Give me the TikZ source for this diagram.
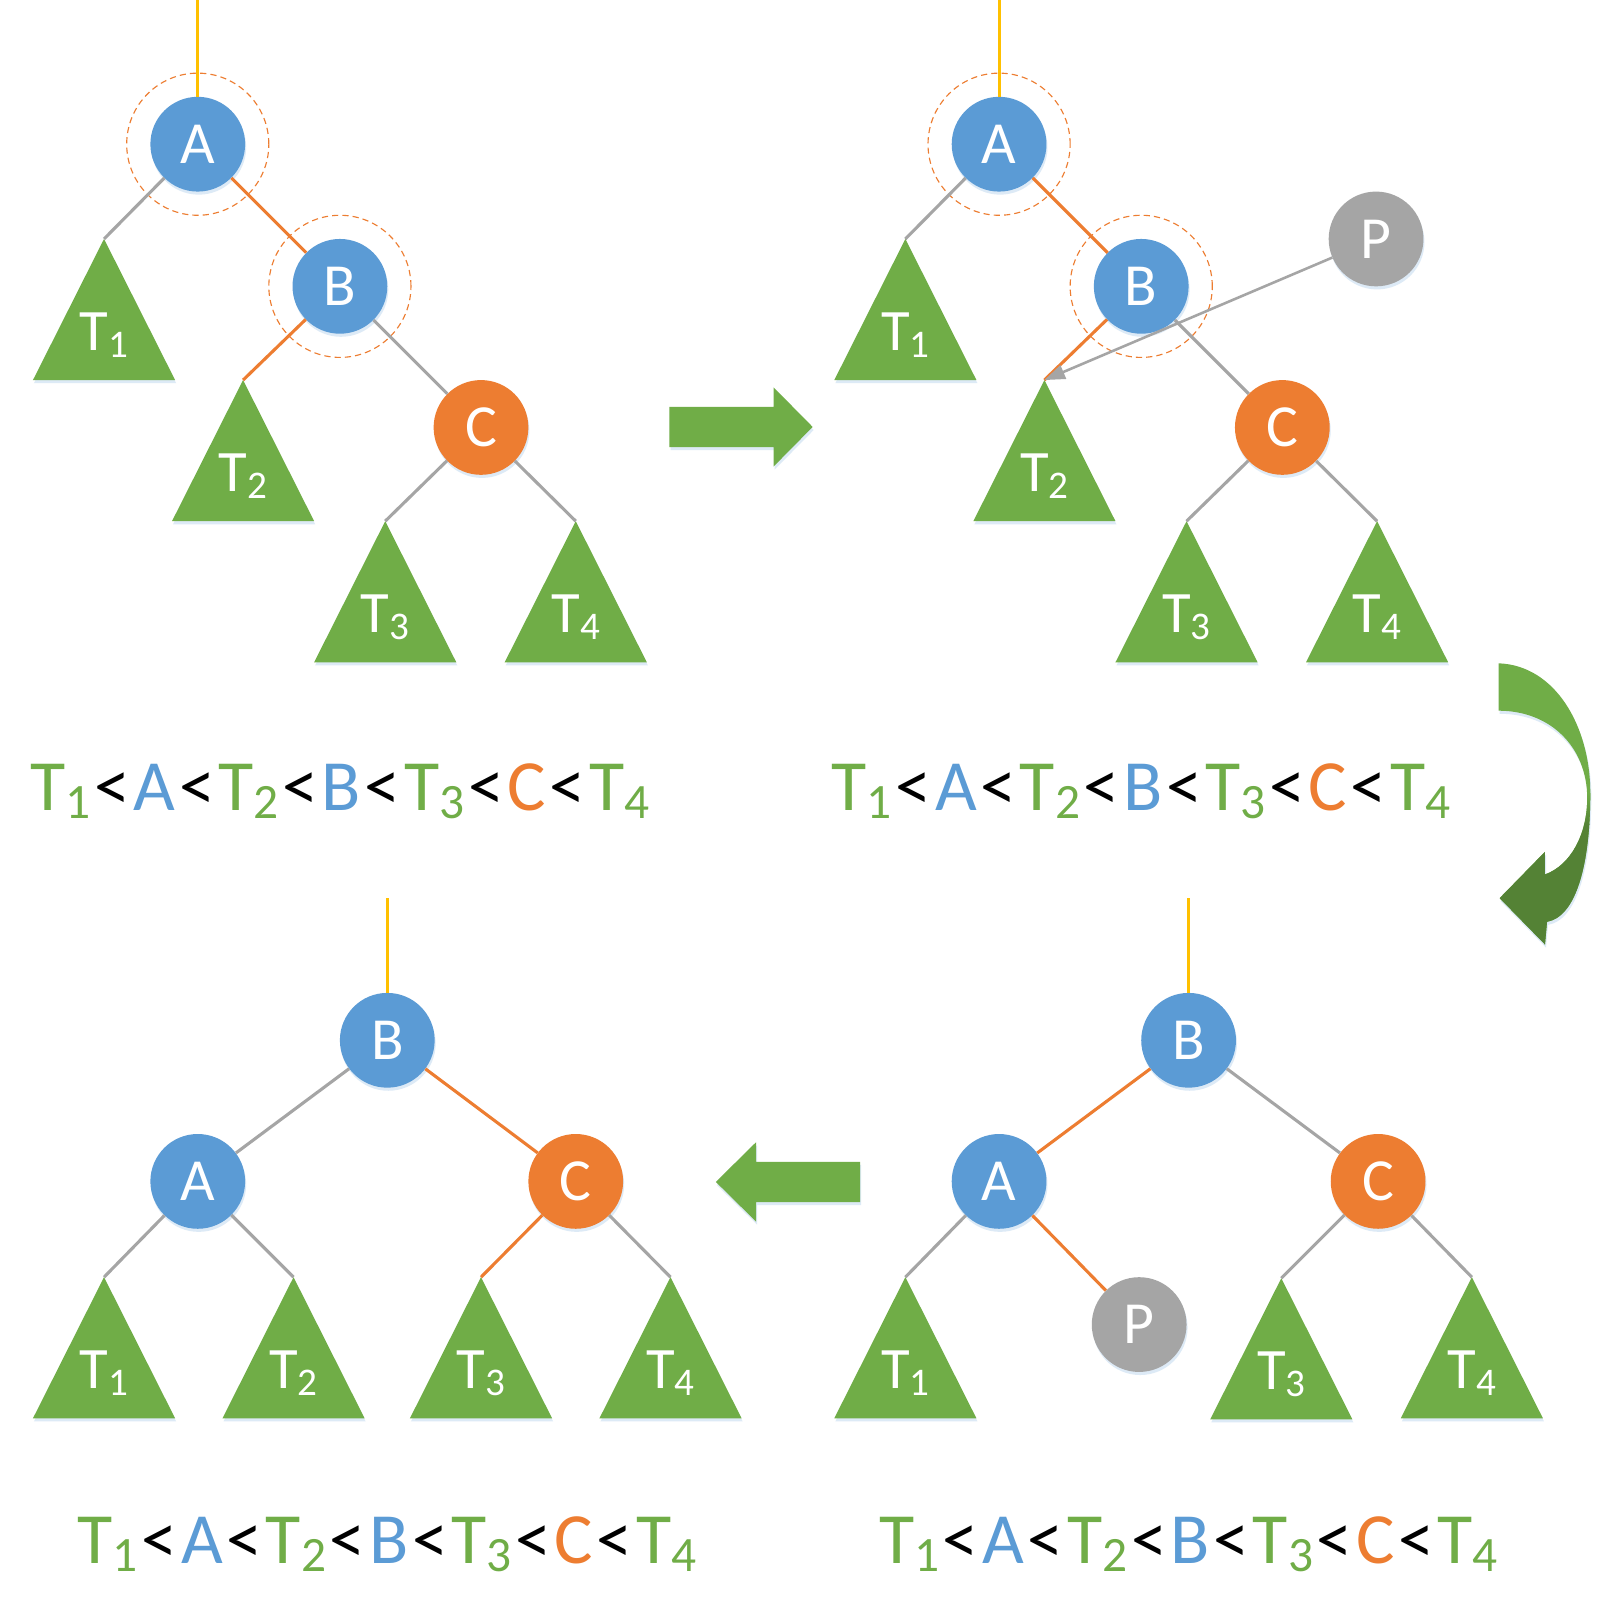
\documentclass[tikz,border=0pt]{standalone}
\usepackage{fontspec}
\setmainfont{Carlito}
\usetikzlibrary{arrows.meta,shadows,calc}
\definecolor{cblue}{HTML}{5B9BD5}
\definecolor{corange}{HTML}{ED7D31}
\definecolor{cgreen}{HTML}{70AD47}
\definecolor{cdkgreen}{HTML}{548235}
\definecolor{cgray}{HTML}{A5A5A5}
\definecolor{cyellow}{HTML}{FFC000}
\definecolor{cshadow}{HTML}{BDD7EE}
\newcommand\tsub[1]{\raisebox{-7pt}{\fontsize{38}{38}\selectfont#1}}
\newcommand\osub[1]{\raisebox{-8pt}{\fontsize{48}{48}\selectfont#1}}
\newcommand\olt{\hspace{3.5pt}<\hspace{3.5pt}}
\newcommand\orderline{\textcolor{cgreen}{T\osub{1}}\olt\textcolor{cblue}{A}\olt\textcolor{cgreen}{T\osub{2}}\olt\textcolor{cblue}{B}\olt\textcolor{cgreen}{T\osub{3}}\olt\textcolor{corange}{C}\olt\textcolor{cgreen}{T\osub{4}}}
\newcommand\subtree[4]{%
  \coordinate (#1) at (#2,#3);
  \path[fill=cgreen,shad] (#1) -- ++(-69,137) -- ++(138,0) -- cycle;
  \node[tlabel] (#1l) at ($(#1)+(0,108)$) {T\tsub{#4}};
}
\tikzset{
  shad/.style={drop shadow={shadow xshift=1pt,shadow yshift=-3pt,opacity=0.5,fill=cshadow}},
  vertex/.style={circle,minimum size=92pt,inner sep=0pt,text=white,font=\fontsize{58}{58}\selectfont,shad},
  bnode/.style={vertex,fill=cblue},
  onode/.style={vertex,fill=corange},
  pnode/.style={vertex,fill=cgray},
  halo/.style={circle,draw=corange,dash pattern=on 6pt off 4pt,line width=1.1pt,minimum size=138pt,inner sep=0pt},
  gedge/.style={draw=cgray,line width=3pt},
  oedge/.style={draw=corange,line width=3pt},
  yedge/.style={draw=cyellow,line width=3pt},
  tlabel/.style={anchor=base,text=white,inner sep=0pt,font=\fontsize{57}{57}\selectfont},
  order/.style={anchor=base,inner sep=0pt,font=\fontsize{70}{70}\selectfont},
  bigarrow/.style={fill=cgreen,shad},
}
\begin{document}
\begin{tikzpicture}[x=1pt,y=-1pt]
\useasboundingbox (0,0) rectangle (1568,1564);
\fill[white] (0,0) rectangle (1568,1564);

% ---------- top-left tree
\coordinate (top1) at (192,0);
\subtree{t11}{101}{232}{1}
\subtree{t12}{236}{369}{2}
\subtree{t13}{374}{506}{3}
\subtree{t14}{559}{506}{4}
\node[bnode] (A1) at (192,140) {A};
\node[halo] (hA1) at (A1) {};
\node[bnode] (B1) at (330,278) {B};
\node[halo] (hB1) at (B1) {};
\node[onode] (C1) at (467,415) {C};
\draw[yedge] (top1) -- (A1);
\draw[gedge] (A1) -- (t11);
\draw[oedge] (A1) -- (B1);
\draw[oedge] (B1) -- (t12);
\draw[gedge] (B1) -- (C1);
\draw[gedge] (C1) -- (t13);
\draw[gedge] (C1) -- (t14);
\node[order] (o1) at (330,787) {\orderline};

% ---------- right arrow
\path[bigarrow] (650,395) -- (751,395) -- (751,376) -- (789,414.5) -- (751,453) -- (751,434) -- (650,434) -- cycle;

% ---------- top-right tree
\coordinate (top2) at (970,0);
\subtree{t21}{879}{232}{1}
\subtree{t22}{1014}{369}{2}
\subtree{t23}{1152}{506}{3}
\subtree{t24}{1337}{506}{4}
\node[bnode] (A2) at (970,140) {A};
\node[halo] (hA2) at (A2) {};
\node[bnode] (B2) at (1108,278) {B};
\node[halo] (hB2) at (B2) {};
\node[onode] (C2) at (1245,415) {C};
\node[pnode] (P2) at (1336,232) {P};
\draw[yedge] (top2) -- (A2);
\draw[gedge] (A2) -- (t21);
\draw[oedge] (A2) -- (B2);
\draw[oedge] (B2) -- (t22);
\draw[gedge] (B2) -- (C2);
\draw[gedge] (C2) -- (t23);
\draw[gedge] (C2) -- (t24);
\draw[gedge,line width=2.5pt,-{Triangle[length=20pt,width=14pt]}] (P2) -- (t22);
\node[order] (o2) at (1108,787) {\orderline};

% ---------- curved arrow
\def\curvepath{(1455,644) .. controls (1510,646) and (1544,705) .. (1544,770)
  .. controls (1544,840) and (1530,890) .. (1502,895) -- (1500,917) -- (1456,872)
  -- (1500,827) -- (1500,849) .. controls (1525,840) and (1541,810) .. (1541,775)
  .. controls (1541,725) and (1505,690) .. (1455,690) -- cycle}
\path[fill=cgreen,shad] \curvepath;
\begin{scope}
  \clip \curvepath;
  \fill[cdkgreen] (1400,800) rectangle (1600,960);
  \shade[top color=cgreen,bottom color=cdkgreen] (1400,770) rectangle (1600,800.5);
\end{scope}

% ---------- bottom-left tree
\coordinate (top3) at (376,872);
\subtree{t31}{101}{1240}{1}
\subtree{t32}{285}{1240}{2}
\subtree{t33}{467}{1240}{3}
\subtree{t34}{651}{1240}{4}
\node[bnode] (B3) at (376,1010) {B};
\node[bnode] (A3) at (192,1147) {A};
\node[onode] (C3) at (559,1147) {C};
\draw[yedge] (top3) -- (B3);
\draw[gedge] (B3) -- (A3);
\draw[oedge] (B3) -- (C3);
\draw[gedge] (A3) -- (t31);
\draw[gedge] (A3) -- (t32);
\draw[oedge] (C3) -- (t33);
\draw[gedge] (C3) -- (t34);
\node[order] (o3) at (376,1518) {\orderline};

% ---------- left arrow
\path[bigarrow] (835,1128) -- (734,1128) -- (734,1109) -- (695,1147.5) -- (734,1186) -- (734,1167) -- (835,1167) -- cycle;

% ---------- bottom-right tree
\coordinate (top4) at (1154,872);
\subtree{t41}{879}{1240}{1}
\subtree{t43}{1244}{1241}{3}
\subtree{t44}{1429}{1240}{4}
\node[bnode] (B4) at (1154,1010) {B};
\node[bnode] (A4) at (970,1147) {A};
\node[onode] (C4) at (1338,1147) {C};
\node[pnode] (P4) at (1106,1286) {P};
\draw[yedge] (top4) -- (B4);
\draw[oedge] (B4) -- (A4);
\draw[gedge] (B4) -- (C4);
\draw[gedge] (A4) -- (t41);
\draw[oedge] (A4) -- (P4);
\draw[gedge] (C4) -- (t43);
\draw[gedge] (C4) -- (t44);
\node[order] (o4) at (1154,1518) {\orderline};
\end{tikzpicture}
\end{document}
